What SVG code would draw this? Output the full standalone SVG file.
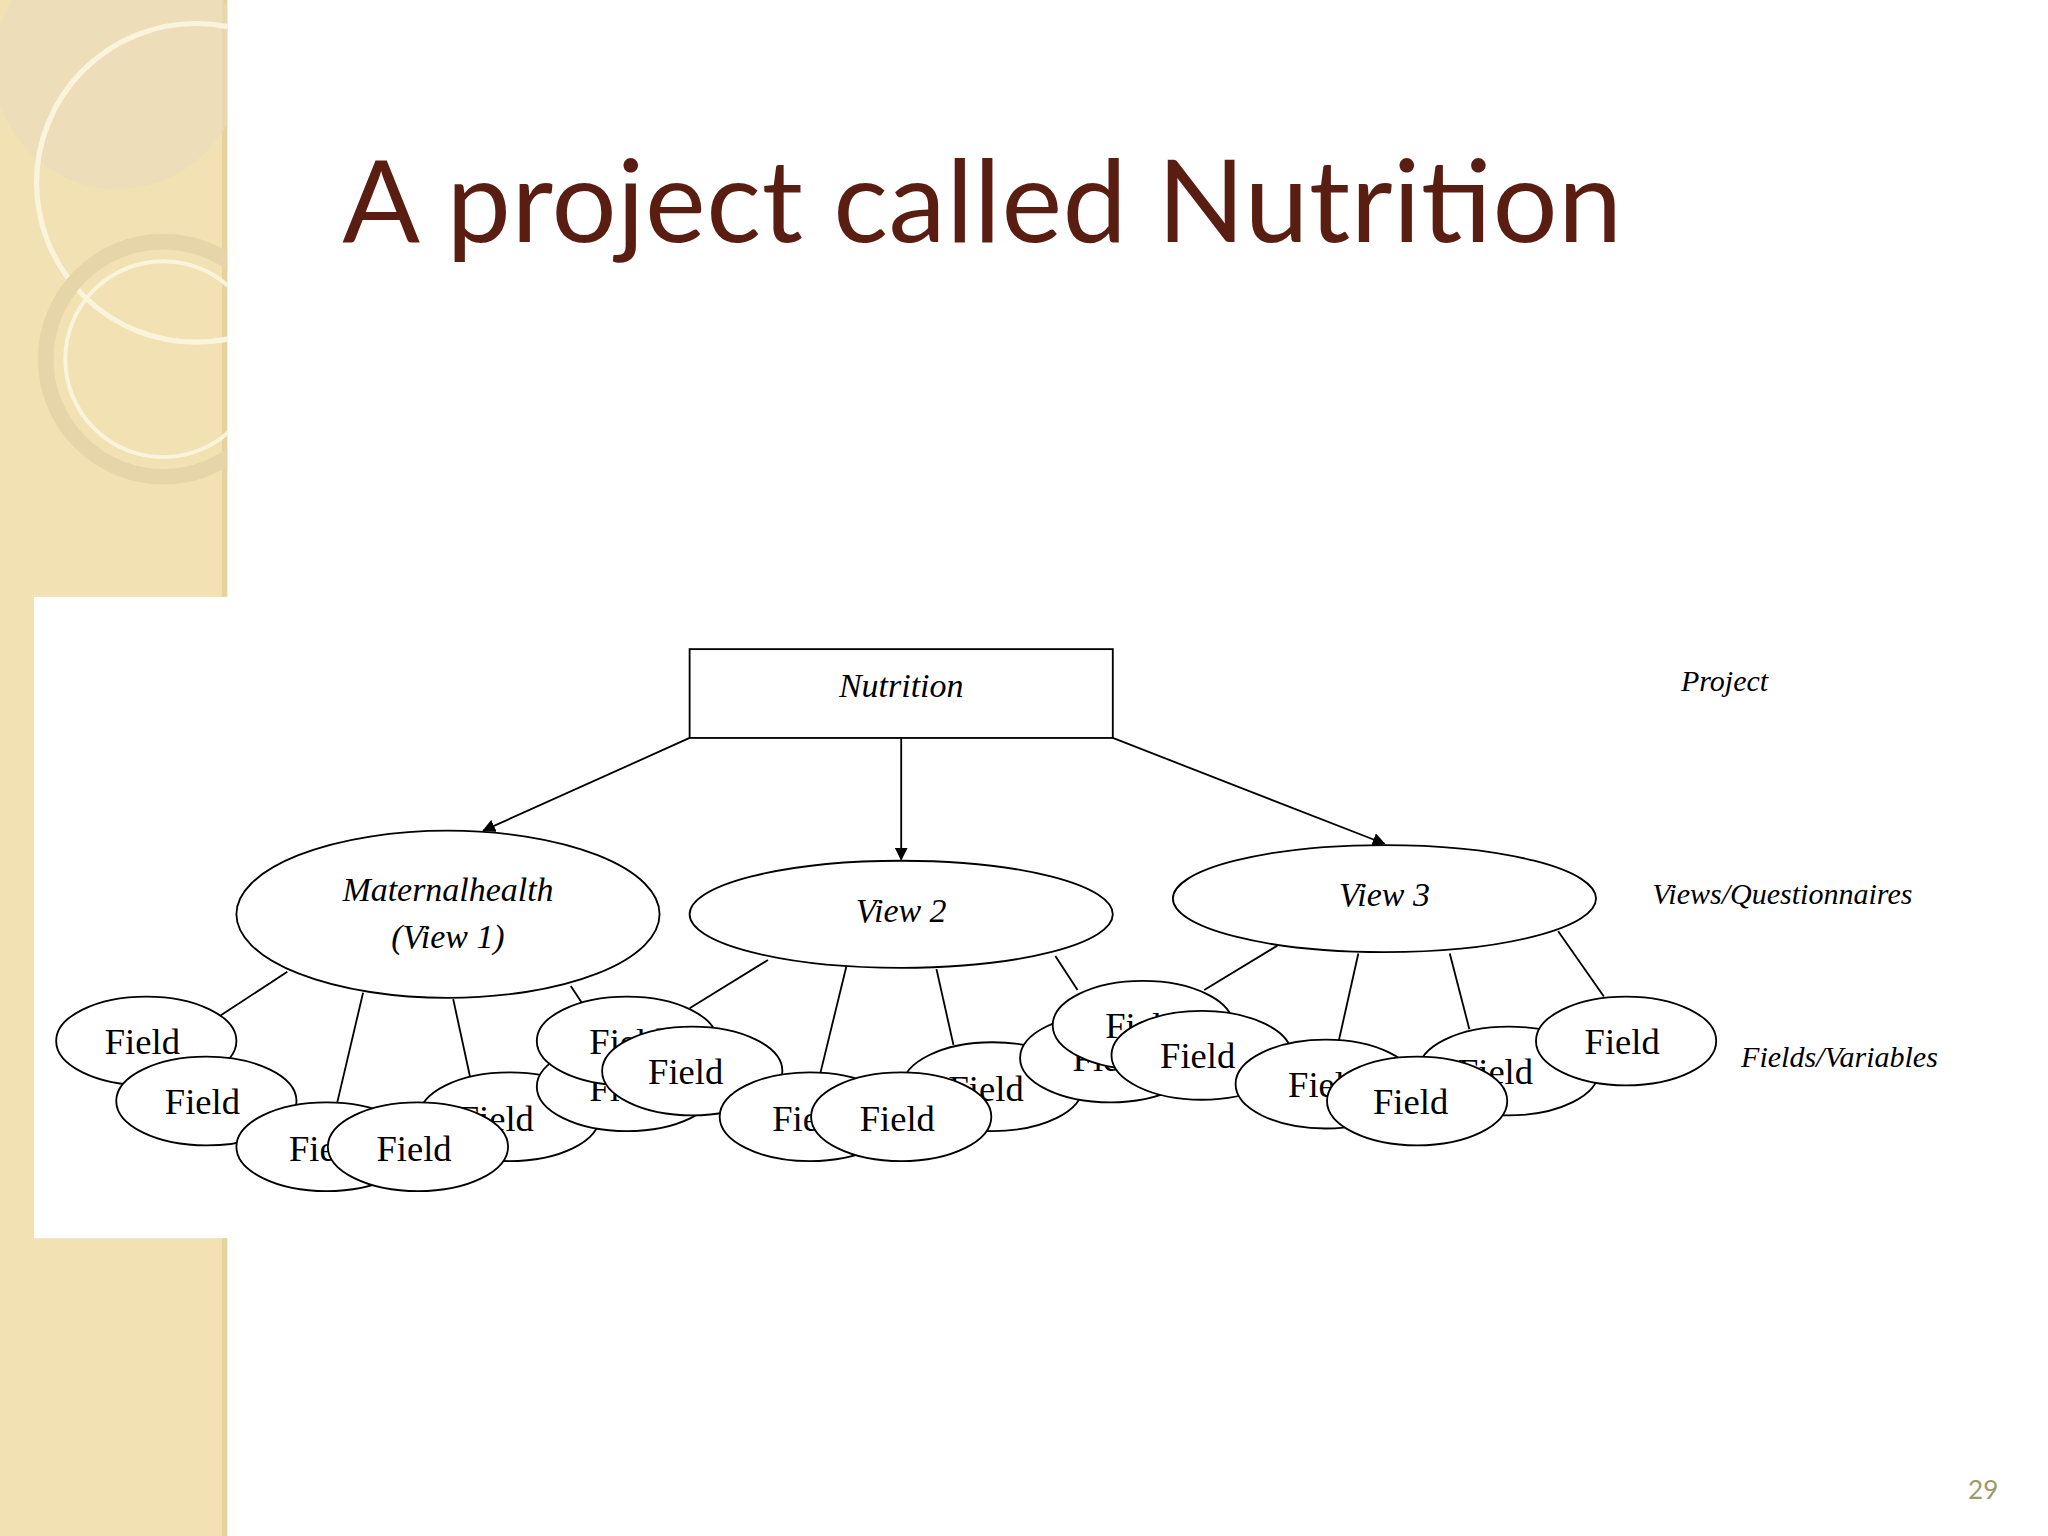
<svg xmlns="http://www.w3.org/2000/svg" width="2048" height="1536" viewBox="0 0 2048 1536">
<style>
.e{fill:#fff;stroke:#000;stroke-width:1.4}
.f{font-family:"Liberation Serif",serif;font-size:28px;text-anchor:middle}
.i{font-family:"Liberation Serif",serif;font-style:italic;font-size:26px;text-anchor:middle}
.l{font-family:"Liberation Serif",serif;font-style:italic;font-size:23px}
.c{stroke:#000;stroke-width:1.4;fill:none}
</style>
<defs>
<marker id="a" markerWidth="10" markerHeight="10" refX="9" refY="5" orient="auto" markerUnits="userSpaceOnUse"><path d="M0,0L10,5L0,10z"/></marker>
<clipPath id="sb"><rect x="0" y="0" width="174" height="1176"/></clipPath>
</defs>
<rect width="2048" height="1536" fill="#fff"/>
<g transform="scale(1.3061)">
<rect x="0" y="0" width="174" height="1176" fill="#f2e2b3"/>
<rect x="170" y="0" width="4" height="1176" fill="#e6d29c"/>
<g clip-path="url(#sb)">
<circle cx="90" cy="50" r="95" fill="#e9dcbc" opacity="0.6"/>
<circle cx="150" cy="140" r="122" fill="none" stroke="#fbf4dc" stroke-width="4"/>
<circle cx="125" cy="275" r="90" fill="none" stroke="#e6d5a8" stroke-width="12"/>
<circle cx="125" cy="275" r="75" fill="none" stroke="#fbf4dc" stroke-width="3"/>
</g>
<rect x="26" y="457" width="1542" height="491" fill="#fff"/>
<text x="262" y="185" font-family="Lato,sans-serif" font-size="88" fill="#5a1d12" textLength="980">A project called Nutrition</text>
<text x="1530" y="1148" font-family="Lato,sans-serif" font-size="20" fill="#9c9a6a" text-anchor="end">29</text>
<g id="connectors">
<line class="c" x1="528" y1="565" x2="370" y2="636" marker-end="url(#a)"/>
<line class="c" x1="690" y1="565" x2="690" y2="658" marker-end="url(#a)"/>
<line class="c" x1="852" y1="565" x2="1060" y2="646" marker-end="url(#a)"/>
<line class="c" x1="220" y1="744" x2="165" y2="780"/>
<line class="c" x1="278" y1="760" x2="258" y2="845"/>
<line class="c" x1="347" y1="765" x2="360" y2="825"/>
<line class="c" x1="437" y1="755" x2="447" y2="770"/>
<line class="c" x1="588" y1="735" x2="528" y2="772"/>
<line class="c" x1="648" y1="740" x2="628" y2="822"/>
<line class="c" x1="717" y1="742" x2="730" y2="800"/>
<line class="c" x1="808" y1="732" x2="825" y2="758"/>
<line class="c" x1="978" y1="724" x2="922" y2="758"/>
<line class="c" x1="1040" y1="730" x2="1025" y2="797"/>
<line class="c" x1="1110" y1="730" x2="1125" y2="788"/>
<line class="c" x1="1193" y1="713" x2="1228" y2="763"/>
</g>
<g id="nutrition"><rect class="e" x="528" y="497" width="324" height="68"/><text class="i" x="690" y="534">Nutrition</text></g>
<text class="l" x="1287" y="529">Project</text>
<text class="l" x="1265" y="692">Views/Questionnaires</text>
<text class="l" x="1333" y="817">Fields/Variables</text>
<g id="view1"><ellipse class="e" cx="343" cy="700" rx="162" ry="64"/><text class="i" x="343" y="690">Maternalhealth</text><text class="i" x="343" y="726">(View 1)</text></g>
<g id="view2"><ellipse class="e" cx="690" cy="700" rx="162" ry="41"/><text class="i" x="690" y="706">View 2</text></g>
<g id="view3"><ellipse class="e" cx="1060" cy="688" rx="162" ry="41"/><text class="i" x="1060" y="694">View 3</text></g>
<g id="fields">
<g><ellipse class="e" cx="112" cy="797" rx="69" ry="34"/><text class="f" x="109" y="807">Field</text></g>
<g><ellipse class="e" cx="158" cy="843" rx="69" ry="34"/><text class="f" x="155" y="853">Field</text></g>
<g><ellipse class="e" cx="390" cy="855" rx="69" ry="34"/><text class="f" x="380" y="866">Field</text></g>
<g><ellipse class="e" cx="250" cy="878" rx="69" ry="34"/><text class="f" x="250" y="889">Field</text></g>
<g><ellipse class="e" cx="320" cy="878" rx="69" ry="34"/><text class="f" x="317" y="889">Field</text></g>
<g><ellipse class="e" cx="480" cy="832" rx="69" ry="34"/><text class="f" x="480" y="843">Field</text></g>
<g><ellipse class="e" cx="480" cy="797" rx="69" ry="34"/><text class="f" x="480" y="807">Field</text></g>
<g><ellipse class="e" cx="530" cy="820" rx="69" ry="34"/><text class="f" x="525" y="830">Field</text></g>
<g><ellipse class="e" cx="760" cy="832" rx="69" ry="34"/><text class="f" x="755" y="843">Field</text></g>
<g><ellipse class="e" cx="620" cy="855" rx="69" ry="34"/><text class="f" x="620" y="866">Field</text></g>
<g><ellipse class="e" cx="690" cy="855" rx="69" ry="34"/><text class="f" x="687" y="866">Field</text></g>
<g><ellipse class="e" cx="850" cy="810" rx="69" ry="34"/><text class="f" x="850" y="820">Field</text></g>
<g><ellipse class="e" cx="875" cy="785" rx="69" ry="34"/><text class="f" x="875" y="795">Field</text></g>
<g><ellipse class="e" cx="920" cy="808" rx="69" ry="34"/><text class="f" x="917" y="818">Field</text></g>
<g><ellipse class="e" cx="1155" cy="820" rx="69" ry="34"/><text class="f" x="1145" y="830">Field</text></g>
<g><ellipse class="e" cx="1015" cy="830" rx="69" ry="34"/><text class="f" x="1015" y="840">Field</text></g>
<g><ellipse class="e" cx="1085" cy="843" rx="69" ry="34"/><text class="f" x="1080" y="853">Field</text></g>
<g><ellipse class="e" cx="1245" cy="797" rx="69" ry="34"/><text class="f" x="1242" y="807">Field</text></g>
</g>
</g>
</svg>
